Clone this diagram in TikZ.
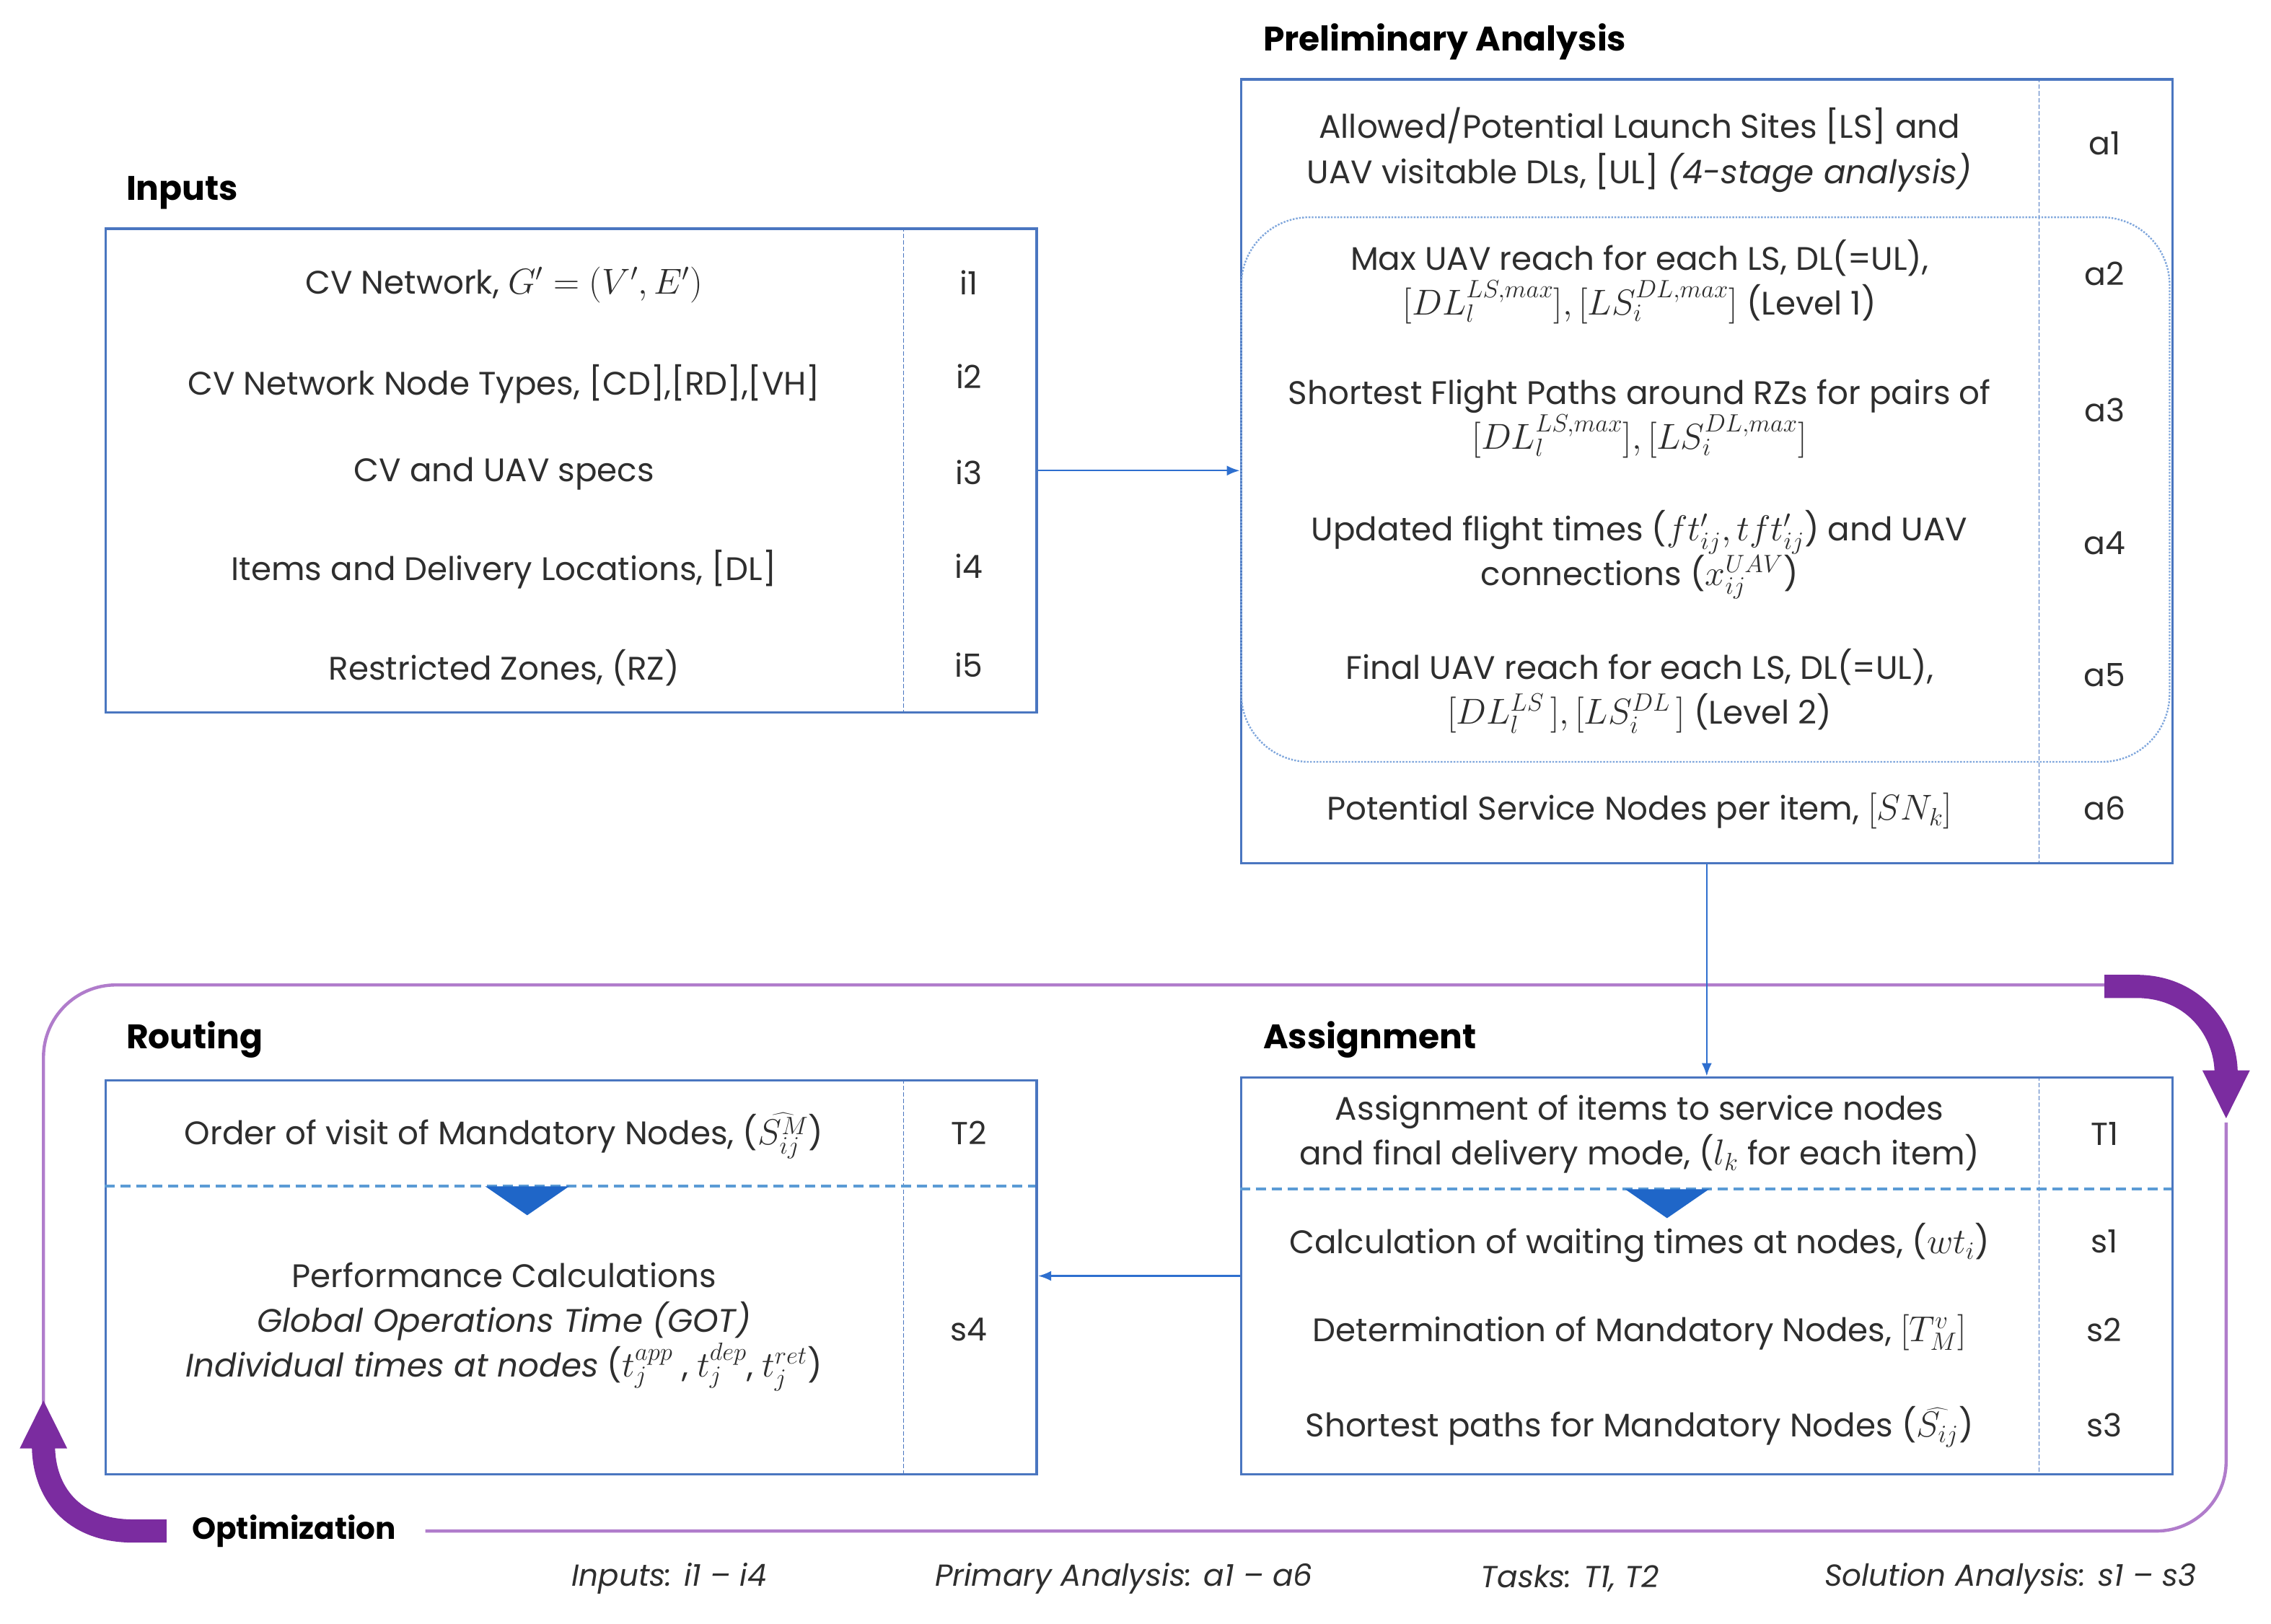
\documentclass[tikz,border=0pt]{standalone}
\usepackage{fontspec}
\setmainfont{Poppins}
\usetikzlibrary{arrows.meta}
\definecolor{boxblue}{HTML}{4A76C0}
\definecolor{sepblue}{HTML}{5B9BD5}
\definecolor{arrblue}{HTML}{2E6FCF}
\definecolor{trifill}{HTML}{1F66C8}
\definecolor{dotblue}{HTML}{7FA6DC}
\definecolor{txtgray}{HTML}{2E2E2E}
\definecolor{optlight}{HTML}{B07CCB}
\definecolor{optdark}{HTML}{7B2CA0}
\newcommand{\mth}[1]{{\fontsize{27}{31}\selectfont$#1$}}
\begin{document}
\begin{tikzpicture}[x=1pt,y=-1pt,
  box/.style={draw=boxblue, line width=1.8pt, inner sep=0pt, anchor=north west},
  txt/.style={text=txtgray, align=center, inner sep=0pt, font=\fontsize{22.5}{31}\selectfont},
  lbl/.style={text=txtgray, inner sep=0pt, font=\fontsize{22}{24}\selectfont},
  ttl/.style={anchor=west, inner sep=0pt, text=black, font=\fontsize{23.5}{26}\selectfont\bfseries},
  leg/.style={text=txtgray, inner sep=0pt, font=\fontsize{21}{22}\selectfont\itshape},
  divider/.style={draw=boxblue, line width=0.6pt, dash pattern=on 3pt off 1.5pt},
  sepline/.style={draw=sepblue, line width=1.8pt, dash pattern=on 7pt off 4pt},
  conn/.style={draw=arrblue, line width=1.2pt, -{Latex[length=9pt,width=7pt]}},
  optthin/.style={draw=optlight, line width=2.2pt},
  optthick/.style={draw=optdark, line width=16pt, -{Triangle[length=34pt,width=30pt]}},
  tri/.style={fill=trifill, draw=none}
]
\useasboundingbox (0,0) rectangle (1568,1121);
\fill[white] (0,0) rectangle (1568,1121);

% ---------------- Optimization loop ----------------
\node[inner sep=0pt, font=\fontsize{21}{24}\selectfont\bfseries] (opt) at (203,1057) {Optimization};
\coordinate (optTR) at (1455,680);
\coordinate (optBL) at (30,985);
\coordinate (optRE) at (1537,775);
\draw[optthin, rounded corners=50pt] (optTR) -- (30,680) -- (optBL);
\draw[optthin, rounded corners=48pt] ([xshift=20pt]opt.east) -- (1537,1057) -- (optRE);
\coordinate (thA) at (1453,681);
\coordinate (thB) at (1537,773);
\draw[optthick] (thA) -- (1475,681) .. controls (1515,681) and (1537,712) .. (thB);
\coordinate (tlA) at (115,1057);
\coordinate (tlB) at (30,966);
\draw[optthick] (tlA) -- (92,1057) .. controls (50,1057) and (30,1030) .. (tlB);

% ---------------- Inputs ----------------
\node[ttl] (tInputs) at (87,133) {Inputs};
\node[box, minimum width=643pt, minimum height=334pt] (inputs) at (72,157) {};
\draw[divider] (624,157) -- (624,491);
\node[txt] (i1) at (348,197) {CV Network, \mth{G' = (V', E')}};
\node[txt] (i2) at (348,265) {CV Network Node Types, [CD],[RD],[VH]};
\node[txt] (i3) at (348,327) {CV and UAV specs};
\node[txt] (i4) at (348,393) {Items and Delivery Locations, [DL]};
\node[txt] (i5) at (348,461) {Restricted Zones, (RZ)};
\node[lbl] (li1) at (669,195) {i1};
\node[lbl] (li2) at (669,260) {i2};
\node[lbl] (li3) at (669,326) {i3};
\node[lbl] (li4) at (669,391) {i4};
\node[lbl] (li5) at (669,459) {i5};

% ---------------- Preliminary Analysis ----------------
\node[ttl] (tPrelim) at (872,29) {Preliminary Analysis};
\node[box, minimum width=643pt, minimum height=541pt] (prelim) at (856,54) {};
\draw[divider] (1408,54) -- (1408,595);
\draw[dotblue, line width=1.2pt, densely dotted, rounded corners=47pt] (857,150) rectangle (1498,526);
\node[txt] (a1) at (1132,103.5) {Allowed/Potential Launch Sites [LS] and\\UAV visitable DLs, [UL] \textit{(4-stage analysis)}};
\node[txt] (a2) at (1132,194.5) {Max UAV reach for each LS, DL(=UL),\\\mth{[DL_l^{LS,max}],[LS_i^{DL,max}]} (Level 1)};
\node[txt] (a3) at (1132,289) {Shortest Flight Paths around RZs for pairs of\\\mth{[DL_l^{LS,max}],[LS_i^{DL,max}]}};
\node[txt] (a4) at (1132,383) {Updated flight times (\mth{ft'_{ij}, tft'_{ij}}) and UAV\\connections (\mth{x_{ij}^{UAV}})};
\node[txt] (a5) at (1132,477) {Final UAV reach for each LS, DL(=UL),\\\mth{[DL_l^{LS}\,],[LS_i^{DL}\,]} (Level 2)};
\node[txt] (a6) at (1132,560) {Potential Service Nodes per item, \mth{[SN_k]}};
\node[lbl] (la1) at (1453,99) {a1};
\node[lbl] (la2) at (1453,189) {a2};
\node[lbl] (la3) at (1453,283) {a3};
\node[lbl] (la4) at (1453,375) {a4};
\node[lbl] (la5) at (1453,466) {a5};
\node[lbl] (la6) at (1453,558) {a6};

% ---------------- Routing ----------------
\node[ttl] (tRouting) at (87,718) {Routing};
\node[box, minimum width=643pt, minimum height=272pt] (routing) at (72,745) {};
\draw[divider] (624,745) -- (624,1017);
\draw[sepline] (72,819) -- (715,819);
\fill[tri] (335,819) -- (393,819) -- (364,839) -- cycle;
\node[txt] (t2) at (348,784) {Order of visit of Mandatory Nodes, (\mth{\widehat{S_{ij}^{M}}})};
\node[txt] (s4) at (348,916) {Performance Calculations\\\textit{Global Operations Time (GOT)}\\\textit{Individual times at nodes} (\mth{t_j^{app}} , \mth{t_j^{dep}}, \mth{t_j^{ret}})};
\node[lbl] (lt2) at (669,782) {T2};
\node[lbl] (ls4) at (669,918) {s4};

% ---------------- Assignment ----------------
\node[ttl] (tAssign) at (872,718) {Assignment};
\node[box, minimum width=643pt, minimum height=274pt] (assign) at (856,743) {};
\draw[divider] (1408,743) -- (1408,1017);
\draw[sepline] (856,821) -- (1499,821);
\fill[tri] (1122,821) -- (1180,821) -- (1151,841) -- cycle;
\node[txt] (t1) at (1132,783) {Assignment of items to service nodes\\and final delivery mode, (\mth{l_k} for each item)};
\node[txt] (s1) at (1132,858) {Calculation of waiting times at nodes, (\mth{wt_i})};
\node[txt] (s2) at (1132,920) {Determination of Mandatory Nodes, \mth{[T_M^v]}};
\node[txt] (s3) at (1132,985) {Shortest paths for Mandatory Nodes (\mth{\widehat{S_{ij}}})};
\node[lbl] (lt1) at (1453,783) {T1};
\node[lbl] (ls1) at (1453,857) {s1};
\node[lbl] (ls2) at (1453,918) {s2};
\node[lbl] (ls3) at (1453,984) {s3};

% ---------------- Connectors ----------------
\draw[conn] (inputs.east) -- (prelim.west |- inputs.east);
\draw[conn] (prelim.south) -- (assign.north);
\draw[conn] (assign.west) -- (routing.east |- assign.west);

% ---------------- Legend ----------------
\node[leg] (g1) at (462,1090) {Inputs: i1 -- i4};
\node[leg] (g2) at (776,1090) {Primary Analysis: a1 -- a6};
\node[leg] (g3) at (1084,1090) {Tasks: T1, T2};
\node[leg] (g4) at (1388,1090) {Solution Analysis: s1 -- s3};
\end{tikzpicture}
\end{document}
